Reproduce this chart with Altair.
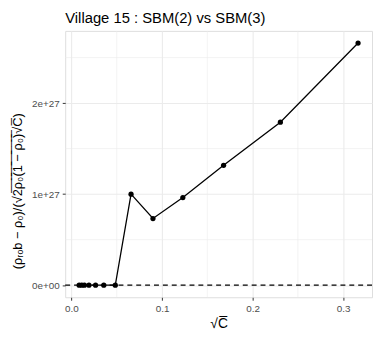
import altair as alt
import pandas as pd

sqrt_c = [0.0085, 0.0114, 0.0143, 0.0193, 0.0266, 0.0357, 0.0484,
          0.0658, 0.0900, 0.1230, 0.1680, 0.2307, 0.3165]
ratio = [0.0, 0.0, 0.0, 0.0, 0.0, 0.0, 0.0,
         1.00e27, 0.732e27, 0.962e27, 1.316e27, 1.79e27, 2.66e27]
x_major = [0.0, 0.1, 0.2, 0.3]
x_minor = [0.05, 0.15, 0.25]
y_major = [0.0, 1e27, 2e27]
y_minor = [0.5e27, 1.5e27, 2.5e27]

df = pd.DataFrame({"x": sqrt_c, "y": ratio})
FONT = "Liberation Sans"
xs = alt.Scale(domain=[-0.0069, 0.3319], nice=False, zero=False)
ys = alt.Scale(domain=[-0.133e27, 2.793e27], nice=False, zero=False)

y_title = "(ρᵣₒb − ρ₀)/(√2̅ρ̅₀̅(̅1̅ ̅−̅ ̅ρ̅₀̅)̅√C̅)"

minor_x = alt.Chart(pd.DataFrame({"x": x_minor})).mark_rule(
    color="#EBEBEB", strokeWidth=0.6).encode(x=alt.X("x:Q", scale=xs))
minor_y = alt.Chart(pd.DataFrame({"y": y_minor})).mark_rule(
    color="#EBEBEB", strokeWidth=0.6).encode(y=alt.Y("y:Q", scale=ys))

base = alt.Chart(df).encode(
    x=alt.X("x:Q", scale=xs, title="√C̅",
            axis=alt.Axis(values=x_major, format=".1f", grid=True, gridColor="#EBEBEB",
                          gridWidth=1.1, tickColor="#333333", tickSize=3,
                          labelColor="#4D4D4D", labelFontSize=10, labelFont=FONT,
                          titleFont=FONT, titleFontSize=14, titleFontWeight="normal",
                          titleColor="black", domain=False, labelPadding=3, titlePadding=4)),
    y=alt.Y("y:Q", scale=ys, title=y_title,
            axis=alt.Axis(values=y_major, grid=True, gridColor="#EBEBEB", gridWidth=1.1,
                          labelExpr="datum.value == 0 ? '0e+00' : format(datum.value/1e27, 'd') + 'e+27'",
                          tickColor="#333333", tickSize=3,
                          labelColor="#4D4D4D", labelFontSize=10, labelFont=FONT,
                          titleFont=FONT, titleFontSize=13, titleFontWeight="normal",
                          titleColor="black", domain=False, labelPadding=3, titlePadding=7,
                          titleAnchor="middle", titleAlign="center", titleY=162)),
)

zero_line = alt.Chart(pd.DataFrame({"y": [0.0]})).mark_rule(
    color="black", strokeDash=[5, 4], strokeWidth=1.2).encode(y=alt.Y("y:Q", scale=ys))

line = base.mark_line(color="black", strokeWidth=1.3)
pts = base.mark_circle(color="black", size=28, opacity=1)

chart = alt.layer(minor_x, minor_y, zero_line, line, pts).properties(
    width=311, height=270,
    padding={"left": 3, "top": 0, "right": 0, "bottom": 0},
    title=alt.Title("Village 15 : SBM(2) vs SBM(3)", anchor="start", frame="group",
                    font=FONT, fontSize=15, fontWeight="normal", color="black", offset=5),
).configure_view(stroke="#333333", strokeWidth=1.2).configure(background="white")

chart.save("out.html", embed_options={"renderer": "svg", "actions": False})
